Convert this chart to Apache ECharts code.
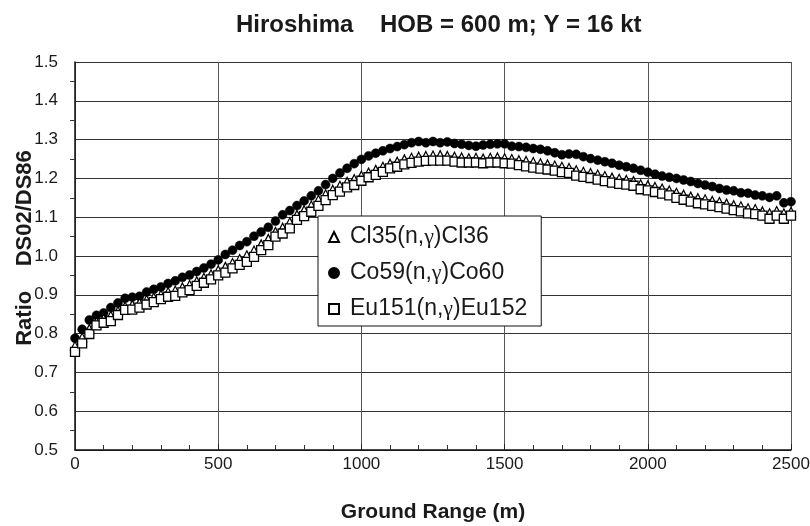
<!DOCTYPE html>
<html>
<head>
<meta charset="utf-8">
<script src="https://cdn.jsdelivr.net/npm/echarts@6/dist/echarts.min.js"></script>
<style>
  html, body { margin: 0; padding: 0; background: #fff; }
  #chart { width: 810px; height: 526px; }
</style>
</head>
<body>
<div id="chart"></div>
<script>
// Ground range (m), one sample every 25 m
const groundRange = [
  0, 25, 50, 75, 100, 125, 150, 175, 200, 225,
  250, 275, 300, 325, 350, 375, 400, 425, 450, 475,
  500, 525, 550, 575, 600, 625, 650, 675, 700, 725,
  750, 775, 800, 825, 850, 875, 900, 925, 950, 975,
  1000, 1025, 1050, 1075, 1100, 1125, 1150, 1175, 1200, 1225,
  1250, 1275, 1300, 1325, 1350, 1375, 1400, 1425, 1450, 1475,
  1500, 1525, 1550, 1575, 1600, 1625, 1650, 1675, 1700, 1725,
  1750, 1775, 1800, 1825, 1850, 1875, 1900, 1925, 1950, 1975,
  2000, 2025, 2050, 2075, 2100, 2125, 2150, 2175, 2200, 2225,
  2250, 2275, 2300, 2325, 2350, 2375, 2400, 2425, 2450, 2475,
  2500
];

// DS02/DS86 ratio, Cl35(n,gamma)Cl36
const ratioCl = [
  0.768, 0.790, 0.812, 0.830, 0.838, 0.846, 0.858, 0.870, 0.874, 0.879,
  0.887, 0.893, 0.900, 0.907, 0.911, 0.919, 0.925, 0.935, 0.944, 0.953,
  0.963, 0.972, 0.982, 0.992, 1.002, 1.014, 1.030, 1.044, 1.062, 1.073,
  1.087, 1.106, 1.118, 1.130, 1.145, 1.159, 1.171, 1.181, 1.191, 1.198,
  1.207, 1.215, 1.222, 1.230, 1.238, 1.243, 1.249, 1.253, 1.256, 1.258,
  1.259, 1.260, 1.258, 1.256, 1.254, 1.252, 1.253, 1.251, 1.253, 1.254,
  1.252, 1.250, 1.247, 1.245, 1.242, 1.239, 1.236, 1.233, 1.230, 1.227,
  1.221, 1.217, 1.214, 1.210, 1.206, 1.202, 1.199, 1.196, 1.193, 1.185,
  1.182, 1.178, 1.174, 1.169, 1.163, 1.158, 1.153, 1.149, 1.146, 1.142,
  1.139, 1.135, 1.131, 1.128, 1.123, 1.121, 1.115, 1.110, 1.116, 1.110,
  1.114
];

// DS02/DS86 ratio, Co59(n,gamma)Co60
const ratioCo = [
  0.788, 0.811, 0.835, 0.847, 0.853, 0.867, 0.879, 0.891, 0.894, 0.896,
  0.907, 0.914, 0.920, 0.929, 0.936, 0.945, 0.951, 0.960, 0.969, 0.979,
  0.990, 1.004, 1.015, 1.027, 1.037, 1.051, 1.062, 1.074, 1.090, 1.106,
  1.117, 1.130, 1.142, 1.155, 1.168, 1.184, 1.200, 1.214, 1.226, 1.238,
  1.249, 1.258, 1.265, 1.271, 1.277, 1.282, 1.287, 1.292, 1.295, 1.292,
  1.295, 1.292, 1.294, 1.290, 1.288, 1.285, 1.283, 1.286, 1.288, 1.289,
  1.289, 1.283, 1.282, 1.280, 1.277, 1.275, 1.271, 1.266, 1.261, 1.263,
  1.262, 1.256, 1.251, 1.247, 1.243, 1.239, 1.234, 1.230, 1.226, 1.221,
  1.216, 1.211, 1.206, 1.203, 1.200, 1.196, 1.192, 1.187, 1.183, 1.179,
  1.174, 1.170, 1.168, 1.163, 1.162, 1.157, 1.155, 1.151, 1.155, 1.137,
  1.140
];

// DS02/DS86 ratio, Eu151(n,gamma)Eu152
const ratioEu = [
  0.753, 0.775, 0.799, 0.821, 0.828, 0.832, 0.848, 0.861, 0.862, 0.867,
  0.875, 0.881, 0.889, 0.895, 0.897, 0.906, 0.912, 0.923, 0.931, 0.940,
  0.950, 0.957, 0.968, 0.977, 0.985, 0.998, 1.015, 1.028, 1.050, 1.058,
  1.071, 1.093, 1.103, 1.114, 1.129, 1.144, 1.157, 1.166, 1.177, 1.183,
  1.194, 1.203, 1.209, 1.217, 1.226, 1.230, 1.236, 1.240, 1.243, 1.245,
  1.246, 1.246, 1.246, 1.243, 1.241, 1.241, 1.241, 1.239, 1.241, 1.241,
  1.239, 1.238, 1.234, 1.231, 1.228, 1.225, 1.223, 1.220, 1.216, 1.214,
  1.207, 1.204, 1.201, 1.197, 1.193, 1.189, 1.186, 1.184, 1.181, 1.172,
  1.169, 1.165, 1.161, 1.156, 1.150, 1.145, 1.140, 1.136, 1.133, 1.129,
  1.126, 1.122, 1.118, 1.115, 1.110, 1.108, 1.104, 1.096, 1.104, 1.096,
  1.104
];

const seriesNames = ['Cl35(n,γ)Cl36', 'Co59(n,γ)Co60', 'Eu151(n,γ)Eu152'];
const xTicks = [0, 500, 1000, 1500, 2000, 2500];
const yTicks = [0.5, 0.6, 0.7, 0.8, 0.9, 1.0, 1.1, 1.2, 1.3, 1.4, 1.5];

const pairs = (ys) => groundRange.map((x, i) => [x, ys[i]]);

const sansFont = '"Liberation Sans", Arial, sans-serif';
const ink = '#1a1a1a';

const chart = echarts.init(document.getElementById('chart'), null, { renderer: 'canvas' });

chart.setOption({
  backgroundColor: '#ffffff',
  animation: false,
  title: {
    text: 'Hiroshima    HOB = 600 m; Y = 16 kt',
    left: 231,
    top: 8,
    textStyle: { fontFamily: sansFont, fontSize: 24, fontWeight: 'bold', color: ink }
  },
  grid: { left: 75, right: 19, top: 62, bottom: 76, containLabel: false, outerBoundsMode: 'none' },
  legend: {
    data: seriesNames,
    orient: 'vertical',
    left: 318,
    top: 216,
    padding: [8, 14, 4, 10],
    itemGap: 10,
    itemWidth: 10,
    itemHeight: 10,
    backgroundColor: '#ffffff',
    borderColor: '#111',
    borderWidth: 1,
    borderRadius: 0,
    selectedMode: false,
    formatter: (name) => name.replace('γ', '{g|γ}'),
    textStyle: {
      fontFamily: sansFont,
      fontSize: 23,
      color: ink,
      lineHeight: 26,
      padding: [0, 0, 0, 6],
      rich: {
        g: { fontFamily: '"Liberation Serif", "DejaVu Serif", serif', fontSize: 22, color: ink, lineHeight: 26 }
      }
    }
  },
  xAxis: {
    type: 'value',
    min: xTicks[0],
    max: xTicks[xTicks.length - 1],
    interval: 500,
    name: 'Ground Range (m)',
    nameLocation: 'middle',
    nameGap: 52,
    nameTextStyle: { fontFamily: sansFont, fontSize: 21, fontWeight: 'bold', color: ink },
    axisLine: { show: true, onZero: false, lineStyle: { color: '#111', width: 1.5 } },
    axisTick: { show: true, inside: true, length: 6, lineStyle: { color: '#222' } },
    minorTick: { show: true, splitNumber: 5, length: 5, lineStyle: { color: '#333', width: 1 } },
    axisLabel: { fontFamily: sansFont, fontSize: 17, color: ink, margin: 6, formatter: (v) => String(v) },
    splitLine: { show: true, lineStyle: { color: '#555', width: 1 } }
  },
  yAxis: {
    type: 'value',
    min: yTicks[0],
    max: yTicks[yTicks.length - 1],
    interval: 0.1,
    name: 'Ratio    DS02/DS86',
    nameLocation: 'middle',
    nameGap: 39,
    nameMoveOverlap: false,
    nameTextStyle: {
      fontFamily: sansFont, fontSize: 22, fontWeight: 'bold', color: ink,
      padding: [0, 0, 0, 16]
    },
    axisLine: { show: true, onZero: false, lineStyle: { color: '#111', width: 1.5 } },
    axisTick: { show: false },
    minorTick: { show: true, splitNumber: 2, length: 5, lineStyle: { color: '#333', width: 1 } },
    axisLabel: {
      fontFamily: sansFont, fontSize: 17, color: ink, margin: 17,
      formatter: (v) => v.toFixed(1)
    },
    splitLine: { show: true, lineStyle: { color: '#333', width: 1 } }
  },
  series: [
    {
      name: seriesNames[1],
      type: 'scatter',
      symbol: 'circle',
      symbolSize: 9,
      z: 2,
      itemStyle: { color: '#000', borderColor: '#000', borderWidth: 0.5, opacity: 1 },
      data: pairs(ratioCo)
    },
    {
      name: seriesNames[0],
      type: 'scatter',
      symbol: 'triangle',
      symbolSize: 9,
      z: 3,
      itemStyle: { color: '#ffffff', borderColor: '#000', borderWidth: 1.2, opacity: 1 },
      data: pairs(ratioCl)
    },
    {
      name: seriesNames[2],
      type: 'scatter',
      symbol: 'rect',
      symbolSize: 9,
      z: 4,
      itemStyle: { color: '#ffffff', borderColor: '#000', borderWidth: 1.3, opacity: 1 },
      data: pairs(ratioEu)
    }
  ]
});
</script>
</body>
</html>
